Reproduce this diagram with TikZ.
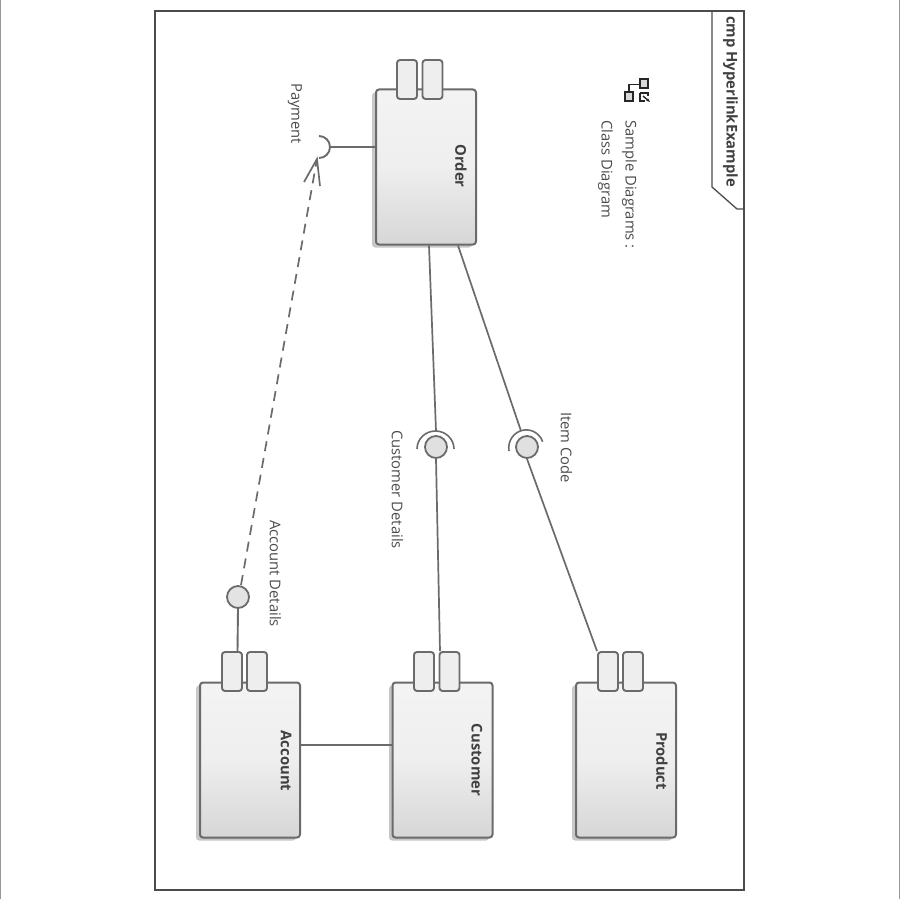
\documentclass[tikz,border=0pt]{standalone}
\usepackage{fontspec}
\setmainfont{Open Sans}
\usetikzlibrary{arrows.meta,calc}
\definecolor{ln}{gray}{0.42}
\definecolor{txt}{gray}{0.30}
\definecolor{shad}{gray}{0.78}
\tikzset{
  x=1pt,y=-1pt,
  comp/.style={draw=ln,line width=2pt,rounded corners=3pt,top color=gray!9,bottom color=gray!32,middle color=gray!13,inner sep=0pt,minimum width=100pt,minimum height=155pt},
  shadowbox/.style={fill=shad,rounded corners=3pt,inner sep=0pt,minimum width=100pt,minimum height=155pt},
  tabbox/.style={draw=ln,line width=1.9pt,rounded corners=3pt,fill=gray!13,inner sep=0pt,minimum width=20pt,minimum height=39pt},
  ball/.style={circle,draw=ln,line width=1.8pt,fill=gray!24,inner sep=0pt,minimum size=22pt},
  conn/.style={draw=ln,line width=1.7pt},
  lab/.style={rotate=-90,text=txt,font=\fontsize{14.8}{17}\selectfont,inner sep=0pt,anchor=west},
  blab/.style={rotate=-90,text=black!75,font=\fontsize{14.8}{17}\selectfont\bfseries,inner sep=0pt},
}
\begin{document}
\begin{tikzpicture}
\useasboundingbox (0,0) rectangle (900,899);
\fill[white] (0,0) rectangle (900,899);
\draw[ln!70,line width=1.2pt] (0.5,0) -- (0.5,899);
\draw[ln!70,line width=1.2pt] (899.5,0) -- (899.5,899);
% frame
\draw[black!70,line width=1.5pt] (155,11) rectangle (744,890);
\draw[black!70,line width=1.3pt] (712,11) -- (712,187) -- (737,209) -- (744,209);
\node[blab,anchor=west] (title) at (730.5,16) {cmp HyperlinkExample};
% shadows
\node[shadowbox] (s1) at (422,170) {};
\node[shadowbox] (s2) at (246,763) {};
\node[shadowbox] (s3) at (439,763) {};
\node[shadowbox] (s4) at (622,763) {};
% components
\node[comp] (order) at (426,167) {};
\node[comp] (account) at (250,760) {};
\node[comp] (customer) at (442.5,760) {};
\node[comp] (product) at (626,760) {};
\node[tabbox] (ot1) at (407,79.5) {};
\node[tabbox] (ot2) at (432.5,79.5) {};
\node[tabbox] (at1) at (232,671.5) {};
\node[tabbox] (at2) at (257,671.5) {};
\node[tabbox] (ct1) at (424,671.5) {};
\node[tabbox] (ct2) at (449.5,671.5) {};
\node[tabbox] (pt1) at (608,671.5) {};
\node[tabbox] (pt2) at (633,671.5) {};
\node[blab] (ol) at (461,166) {Order};
\node[blab] (al) at (286,761) {Account};
\node[blab] (cl) at (477,760) {Customer};
\node[blab] (pl) at (662,761) {Product};
% balls
\node[ball,fill=gray!22] (b1) at (238,597) {};
\node[ball] (b2) at (436,447) {};
\node[ball] (b3) at (527,447) {};
% sockets
\coordinate (payc) at (331,147);
\draw[ln,line width=1.9pt] (319,136) arc[start angle=-90,end angle=90,radius=11];
\draw[ln,line width=1.6pt] (417,449) arc[start angle=180,end angle=0,x radius=18.5,y radius=-18];
\draw[ln,line width=1.6pt] (509,451) arc[start angle=190,end angle=20,x radius=17.5,y radius=-18];
% connectors
\draw[conn,line width=1.9pt] (payc) -- (order.west |- payc);
\draw[conn] (order.south -| 429,0) -- (436,431);
\draw[conn] (b2.south) -- (ct2.north -| 440,0);
\draw[conn] (order.south -| 458,0) -- (521,431);
\draw[conn] (b3.south) -- (pt1.north -| 597,0);
\draw[conn,line width=1.9pt] (b1.south) -- (at1.north -| 237.5,0);
\draw[conn] (account.east |- 0,745) -- (customer.west |- 0,745);
\coordinate (tip) at (317,159);
\draw[conn,dash pattern=on 10pt off 7pt] (b1) ++(3,-12) -- (tip);
\draw[conn] (304,182) -- (tip) -- (320,186);
% labels
\node[lab] (l1) at (295,83) {Payment};
\node[lab] (l2) at (275.5,520) {Account Details};
\node[lab] (l3) at (397.5,430) {Customer Details};
\node[lab] (l4) at (566.5,412) {Item Code};
\node[lab] (l5) at (629.5,120) {Sample Diagrams :};
\node[lab] (l6) at (605.5,120) {Class Diagram};
% icon
\begin{scope}[draw=black!85,line width=1.8pt]
\draw[fill=gray!30] (625,92) rectangle (633,101);
\draw[fill=gray!30] (640,79) rectangle (648,88);
\draw (629,92) -- (629,84.5) -- (640,84.5);
\draw (640,93) -- (640,101) -- (645,101);
\draw (640,93) -- (648,93) -- (648,96);
\draw[-{Stealth[length=4pt]},line width=1.4pt] (643,96) -- (650,102);
\end{scope}
\end{tikzpicture}
\end{document}
